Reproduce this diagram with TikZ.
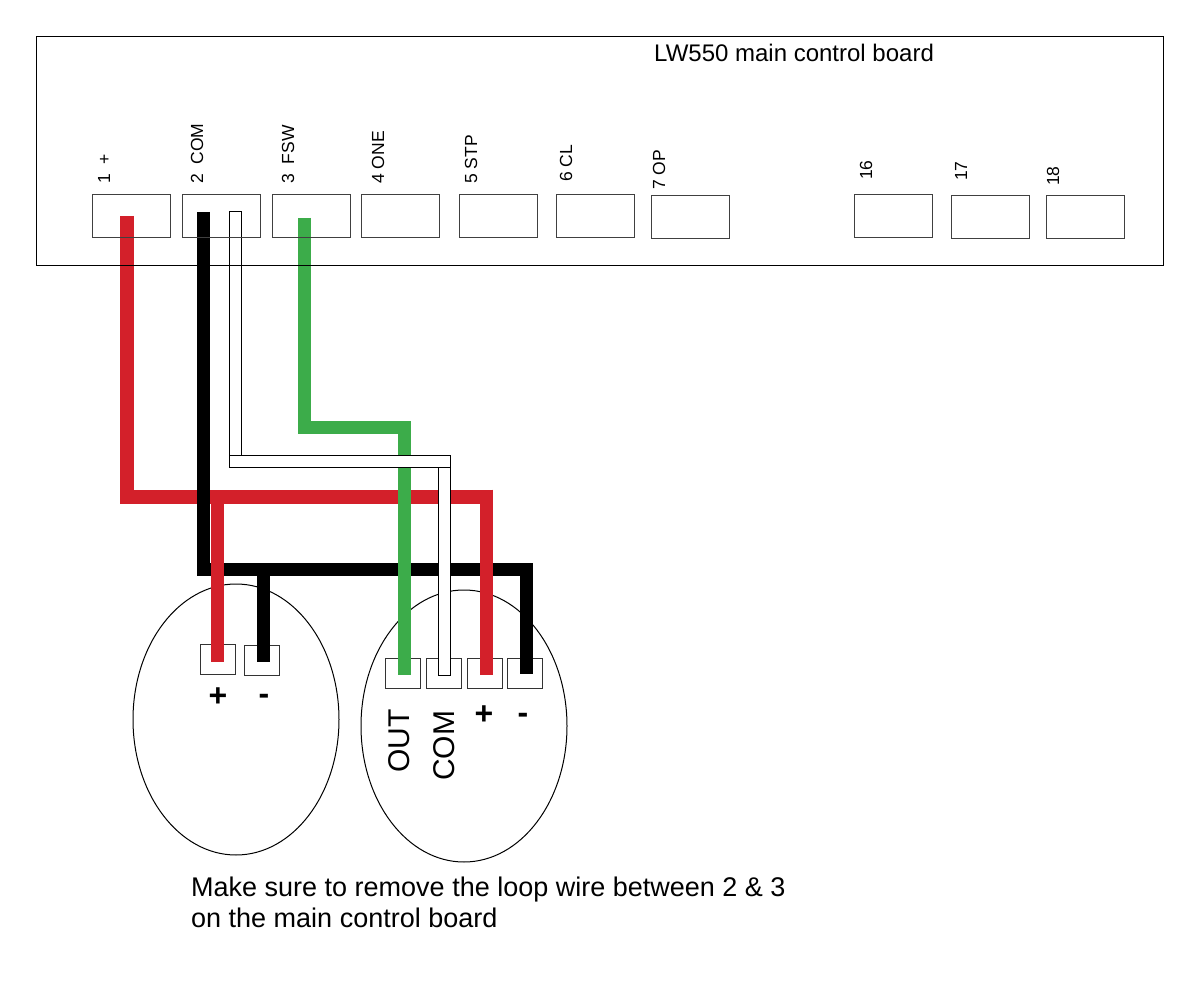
\documentclass[tikz,border=0pt]{standalone}
\usepackage{fontspec}
\setmainfont{Liberation Sans}
\usetikzlibrary{shapes.geometric}
\begin{document}
\begin{tikzpicture}[x=1pt,y=-1pt,
term/.style={draw=black!75,line width=1pt,inner sep=0pt,minimum width=78pt,minimum height=43pt},
pad/.style={draw=black!80,line width=1pt,inner sep=0pt,minimum width=35pt,minimum height=30pt},
round body/.style={ellipse,draw,line width=1pt,inner sep=0pt},
pin/.style={rotate=90,anchor=west,inner sep=0pt,font=\fontsize{17.5}{17.5}\selectfont},
bigpin/.style={rotate=90,anchor=west,inner sep=0pt,font=\fontsize{30}{30}\selectfont},
sign/.style={inner sep=0pt,font=\fontsize{32}{32}\selectfont\bfseries},
wire/.style={line width=13pt},
whitewire/.style={draw=black,double=white,line width=1pt,double distance=11pt,line cap=rect}]
\useasboundingbox (0,0) rectangle (1200,1000);
\fill[white] (0,0) rectangle (1200,1000);
\definecolor{wirered}{RGB}{211,32,42}
\definecolor{wiregreen}{RGB}{60,172,74}

    % the two round units
    \node (left) [round body,minimum width=206pt,minimum height=271pt] at (236,719.5) {};
    \node (right) [round body,minimum width=206pt,minimum height=272pt] at (464,726) {};

    \node (p1) [pad] at (217.5,659.5) {};
    \node (p2) [pad] at (261.5,660.5) {};
    \node (p3) [pad] at (403,673) {};
    \node (p4) [pad] at (443.5,673) {};
    \node (p5) [pad] at (484.5,673) {};
    \node (p6) [pad] at (525,673) {};

    % wire ends and bends
    \coordinate (r1) at (127,216);
    \coordinate (r2) at (127,496.5);
    \coordinate (r3) at (492.5,496.5);
    \coordinate (r4) at (486,675);
    \coordinate (r5) at (217,496.5);
    \coordinate (r6) at (217,662);
    \coordinate (r7) at (486,489.5);
    \coordinate (b1) at (203,212);
    \coordinate (b2) at (203,569);
    \coordinate (b3) at (526,569);
    \coordinate (b4) at (526,674);
    \coordinate (b5) at (263,569);
    \coordinate (b6) at (263,662);
    \coordinate (g1) at (304,218);
    \coordinate (g2) at (304,427);
    \coordinate (g3) at (404,427);
    \coordinate (g4) at (404,675);
    \coordinate (w1) at (235,218);
    \coordinate (w2) at (235,461.5);
    \coordinate (w3) at (444.5,461.5);
    \coordinate (w4) at (444.5,669);

    \draw [wire,wirered,line width=14pt,line join=miter] (r1) -- (r2) -- (r3);
    \draw [wire,black,line join=miter] (b1) -- (b2) -- (b3) -- (b4);
    \draw [wire,black] (b5) -- (b6);
    \draw [wire,wirered] (r5) -- (r6);
    \draw [wire,wirered] (r7) -- (r4);
    \draw [wire,wiregreen,line join=miter] (g1) -- (g2) -- (g3) -- (g4);
    \draw [whitewire] (w3) -- (w4);
    \draw [whitewire] (w1) -- (w2);
    \draw [whitewire] (w2) -- (w3);

    \node (board) [draw,line width=1pt,minimum width=1127pt,minimum height=229pt,inner sep=0pt] at (600,151) {};
    \node (title) [anchor=base west,inner sep=0pt,font=\fontsize{24}{24}\selectfont] at (654,62) {LW550 main control board};

    % main board terminals
    \node (t1) [term] at (131,216) {};
    \node (t2) [term] at (221,216) {};
    \node (t3) [term] at (311,216) {};
    \node (t4) [term] at (400.5,216) {};
    \node (t5) [term] at (498,216) {};
    \node (t6) [term] at (595,216.5) {};
    \node (t7) [term] at (690,217.5) {};
    \node (t16) [term] at (893,216.5) {};
    \node (t17) [term] at (990,217.5) {};
    \node (t18) [term] at (1085,217.5) {};

    \node (l1) [pin] at (104,184) {1\ \ +};
    \node (l2) [pin] at (197,184) {2\ \ COM};
    \node (l3) [pin] at (288,184) {3\ \ FSW};
    \node (l4) [pin] at (378,184) {4 ONE};
    \node (l5) [pin] at (471,184) {5 STP};
    \node (l6) [pin] at (566,182) {6 CL};
    \node (l7) [pin] at (659,190) {7 OP};
    \node (l16) [pin] at (866,180) {16};
    \node (l17) [pin] at (961,181) {17};
    \node (l18) [pin] at (1053,186) {18};

    \node (plus1) [sign] at (218,697) {+};
    \node (minus1) [sign] at (264,699) {-};
    \node (plus2) [sign] at (484,715) {+};
    \node (minus2) [sign] at (523,718) {-};
    \node (out) [bigpin] at (399,773) {OUT};
    \node (com) [bigpin] at (444,781) {COM};

    \node (note) [anchor=north west,inner sep=0pt,align=left,font=\fontsize{27}{31}\selectfont] at (191,877)
      {Make sure to remove the loop wire between 2 \& 3\\on the main control board};

\end{tikzpicture}
\end{document}
